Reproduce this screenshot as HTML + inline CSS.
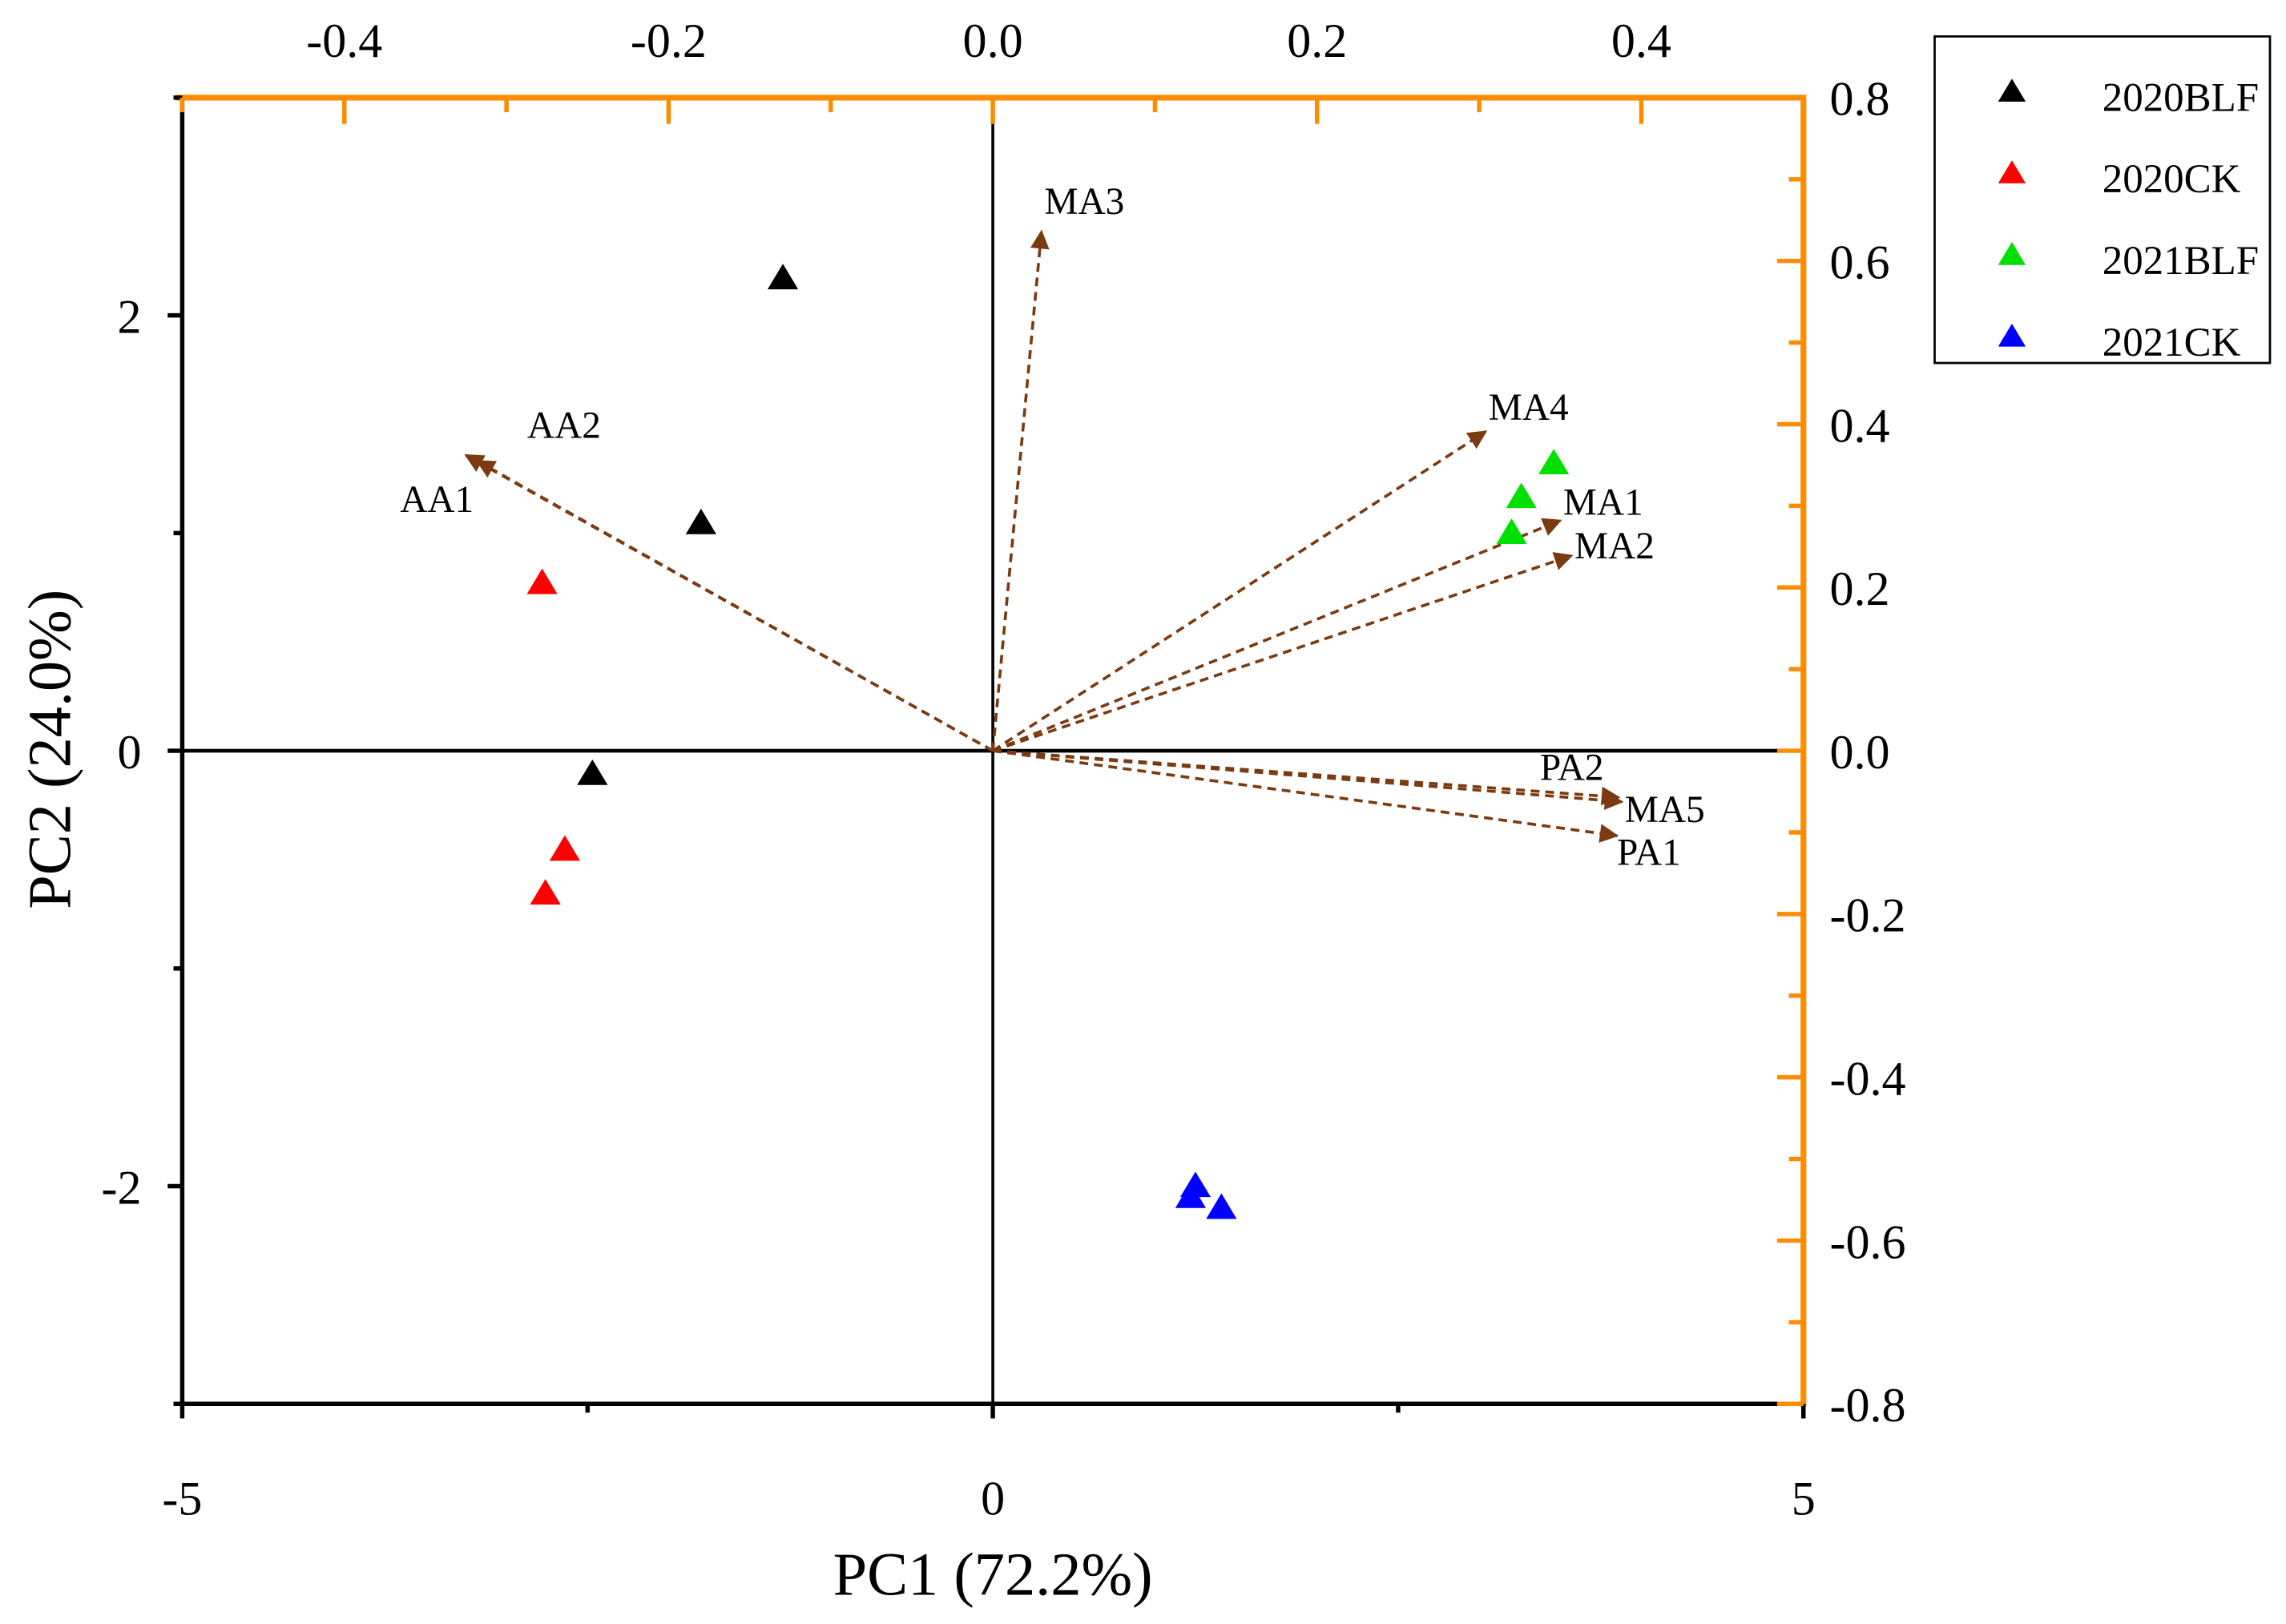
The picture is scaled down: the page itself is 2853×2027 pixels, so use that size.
<!DOCTYPE html>
<html><head><meta charset="utf-8"><style>
html,body{margin:0;padding:0;background:#fff}
svg{display:block}
text{font-family:"Liberation Serif",serif;fill:#000}
</style></head><body>
<svg id="chart" width="2853" height="2027" viewBox="0 0 1568 1114" preserveAspectRatio="none" xmlns="http://www.w3.org/2000/svg">
<defs>
<marker id="ah" viewBox="0 0 10 10" refX="9" refY="5" markerWidth="15" markerHeight="13" markerUnits="userSpaceOnUse" orient="auto"><path d="M0,0 L10,5 L0,10 z" fill="#7a3b10"/></marker>
</defs>
<g id="g"></g>
</svg>
<script>
// score data (PC1, PC2)
const groups = ["2020BLF","2020CK","2021BLF","2021CK"];
const groupColors = ["#000000","#ff0000","#00e000","#0000ff"];
const pc1_2020BLF = [-1.295,-1.80,-2.47];
const pc2_2020BLF = [2.17,1.045,-0.107];
const pc1_2020CK = [-2.78,-2.64,-2.76];
const pc2_2020CK = [0.77,-0.455,-0.656];
const pc1_2021BLF = [3.46,3.26,3.20];
const pc2_2021BLF = [1.32,1.165,1.0];
const pc1_2021CK = [1.25,1.22,1.41];
const pc2_2021CK = [-2.0,-2.05,-2.10];
// loadings
const loadNames = ["MA3","AA2","AA1","MA4","MA1","MA2","PA2","MA5","PA1"];
const loadX = [0.030,-0.325,-0.318,0.304,0.350,0.357,0.386,0.388,0.385];
const loadY = [0.636,0.362,0.355,0.391,0.282,0.239,-0.057,-0.0625,-0.104];
const bottomTicks = [-5,0,5];
const leftTicks = [-2,0,2];
const topTicks = [-0.4,-0.2,0.0,0.2,0.4];
const rightTicks = [0.8,0.6,0.4,0.2,0.0,-0.2,-0.4,-0.6,-0.8];

const L=125,R=1237,T=67,B=963;
const X=v=>L+(v+5)/10*(R-L);
const Y=v=>B-(v+3)/6*(B-T);
const X2=v=>L+(v+0.5)/1*(R-L);
const Y2=v=>B-(v+0.8)/1.6*(B-T);
const g=document.getElementById('g');
const NS="http://www.w3.org/2000/svg";
function el(tag,attrs,parent){const e=document.createElementNS(NS,tag);for(const k in attrs)e.setAttribute(k,attrs[k]);(parent||g).appendChild(e);return e;}
function txt(s,x,y,size,anchor,name){const t=el('text',{x:x,y:y,'font-size':size,'text-anchor':anchor||'start'});t.textContent=s;


return t;}
const OR="#ff8c00";
let zl=el('line',{x1:X(0),y1:T+18,x2:X(0),y2:B,stroke:'#000','stroke-width':2});


zl=el('line',{x1:L,y1:Y(0),x2:R-18,y2:Y(0),stroke:'#000','stroke-width':2.5});


let a=el('line',{x1:L,y1:T,x2:L,y2:B,stroke:'#000','stroke-width':3});


a=el('line',{x1:L,y1:B,x2:R,y2:B,stroke:'#000','stroke-width':3});


a=el('line',{x1:L-4,y1:T,x2:R+2,y2:T,stroke:OR,'stroke-width':4});


a=el('line',{x1:R,y1:T,x2:R,y2:B+2,stroke:OR,'stroke-width':4});


for(const v of [-5,-2.5,0,2.5,5]){el('line',{x1:X(v),y1:B,x2:X(v),y2:B+(v%5===0?10:6),stroke:'#000','stroke-width':3});}
for(const v of bottomTicks){txt(String(v),X(v),B+76,33,'middle','x-tick-label');}
for(const v of [-3,-2,-1,0,1,2,3]){el('line',{x1:L,y1:Y(v),x2:L-(v%2===0?10:6),y2:Y(v),stroke:'#000','stroke-width':3});}
for(const v of leftTicks){txt(String(v),L-28,Y(v)+12,33,'end','y-tick-label');}
for(let v=-0.5;v<=0.501;v+=0.1){const maj=Math.abs(Math.round(v*10))%2===0;el('line',{x1:X2(v),y1:T,x2:X2(v),y2:T+(maj?18:10),stroke:OR,'stroke-width':3});}
for(const v of topTicks){txt(v.toFixed(1),X2(v),T-28,33,'middle','top-tick-label');}
for(let v=-0.8;v<=0.801;v+=0.1){const maj=Math.abs(Math.round(v*10))%2===0;el('line',{x1:R,y1:Y2(v),x2:R-(maj?18:10),y2:Y2(v),stroke:OR,'stroke-width':3});}
for(const v of rightTicks){txt(v.toFixed(1),R+18,Y2(v)+12,33,'start','right-tick-label');}
txt("PC1 (72.2%)",681,1094,42,'middle','x-axis-title');
const yt=txt("PC2 (24.0%)",0,0,42,'middle','y-axis-title');
yt.setAttribute('transform','translate(48,514) rotate(-90)');
const labelOff=[[2,-20],[42,-20],[-53,27],[2,-16],[2,-12],[2,-6],[-54,-20],[2,6],[0,12]];
for(let i=0;i<loadNames.length;i++){
 const ln=el('line',{x1:X2(0),y1:Y2(0),x2:X2(loadX[i]),y2:Y2(loadY[i]),stroke:'#7a3b10','stroke-width':2,'stroke-dasharray':'6,4','marker-end':'url(#ah)'});
 
 
 txt(loadNames[i],X2(loadX[i])+labelOff[i][0],Y2(loadY[i])+labelOff[i][1]+8,26,'start','loading-label');
}
function tri(cx,cy,c,s){return el('path',{d:`M${cx},${cy-s} L${cx+s*1.05},${cy+s*0.75} L${cx-s*1.05},${cy+s*0.75} Z`,fill:c});}
const pts=[[pc1_2020BLF,pc2_2020BLF],[pc1_2020CK,pc2_2020CK],[pc1_2021BLF,pc2_2021BLF],[pc1_2021CK,pc2_2021CK]];
pts.forEach((p,gi)=>{for(let i=0;i<p[0].length;i++){
 const t=tri(X(p[0][i]),Y(p[1][i]),groupColors[gi],10);
 
 
}});
const lg=el('rect',{x:1327,y:25,width:230,height:224,fill:'#fff',stroke:'#000','stroke-width':1.5});


groups.forEach((n,i)=>{
 const y=65+i*56;
 const m=tri(1380,y-2,groupColors[i],9);
 
 
 txt(n,1442,y+11,28,'start','legend-entry');
});
</script>
</body></html>
